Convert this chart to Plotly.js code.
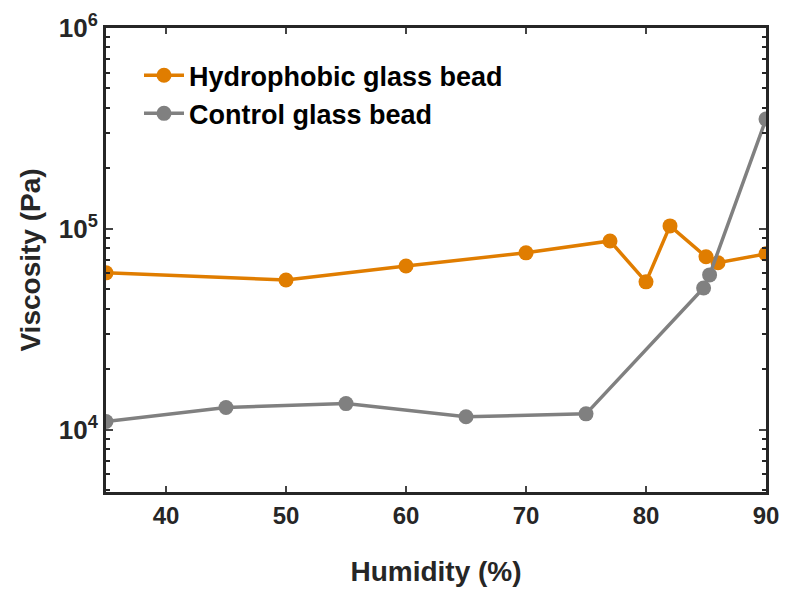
<!DOCTYPE html>
<html><head><meta charset="utf-8">
<script src="https://cdn.plot.ly/plotly-3.0.1.min.js"></script>
<style>html,body{margin:0;padding:0;background:#fff}</style>
</head><body>
<div id="chart" style="width:786px;height:595px"></div>
<script>
const hydroHumidity = [35, 50, 60, 70, 77, 80, 82, 85, 86, 90];
const hydroViscosity = [60400, 55700, 65400, 76000, 87100, 54500, 103500, 72600, 67800, 75100];
const ctrlHumidity = [35, 45, 55, 65, 75, 84.8, 85.3, 90];
const ctrlViscosity = [11000, 12900, 13500, 11600, 12000, 50800, 59000, 352000];
const seriesNames = ["Hydrophobic glass bead", "Control glass bead"];
const yTickVals = [1e4, 1e5, 1e6];
const yTickText = ["10<sup>4</sup>", "10<sup>5</sup>", "10<sup>6</sup>"];
const xTickVals = [40, 50, 60, 70, 80, 90];

const traces = [
  {x: hydroHumidity, y: hydroViscosity, name: seriesNames[0], mode: 'lines+markers',
   line: {color: '#E07D00', width: 3.5}, marker: {color: '#E07D00', size: 15}},
  {x: ctrlHumidity, y: ctrlViscosity, name: seriesNames[1], mode: 'lines+markers',
   line: {color: '#808080', width: 3.5}, marker: {color: '#808080', size: 15}}
];
const font = {family: 'Liberation Sans, Arial, sans-serif', color: '#262626'};
const layout = {
  width: 786, height: 595,
  margin: {l: 106, r: 20, t: 28, b: 103},
  paper_bgcolor: '#fff', plot_bgcolor: '#fff',
  showlegend: true,
  legend: {x: 0.05, y: 0.95, xanchor: 'left', yanchor: 'top', bgcolor: 'rgba(0,0,0,0)',
    font: {family: font.family, size: 27, color: '#000', weight: 'bold'}, itemwidth: 40, tracegroupgap: 0},
  xaxis: {
    range: [35, 90], tickvals: xTickVals, ticks: 'inside', ticklen: 6, tickwidth: 2,
    showline: true, linewidth: 3, linecolor: '#262626', mirror: 'ticks', showgrid: false, zeroline: false,
    tickfont: {family: font.family, size: 24, color: '#262626', weight: 'bold'},
    title: {text: 'Humidity (%)', font: {family: font.family, size: 28, color: '#262626', weight: 'bold'}, standoff: 34}
  },
  yaxis: {
    type: 'log', range: [Math.log10(4900), 6], tickvals: yTickVals, ticktext: yTickText,
    ticks: 'inside', ticklen: 7, tickwidth: 2,
    minor: {ticks: 'inside', ticklen: 4, tickwidth: 2, tickcolor: '#262626', dtick: 'D1', showgrid: false},
    showline: true, linewidth: 3, linecolor: '#262626', mirror: 'ticks', showgrid: false, zeroline: false,
    tickfont: {family: font.family, size: 26, color: '#262626', weight: 'bold'},
    title: {text: 'Viscosity (Pa)', font: {family: font.family, size: 28, color: '#262626', weight: 'bold'}, standoff: 10}
  }
};
Plotly.newPlot('chart', traces, layout, {displayModeBar: false, staticPlot: true});
</script>
</body></html>
